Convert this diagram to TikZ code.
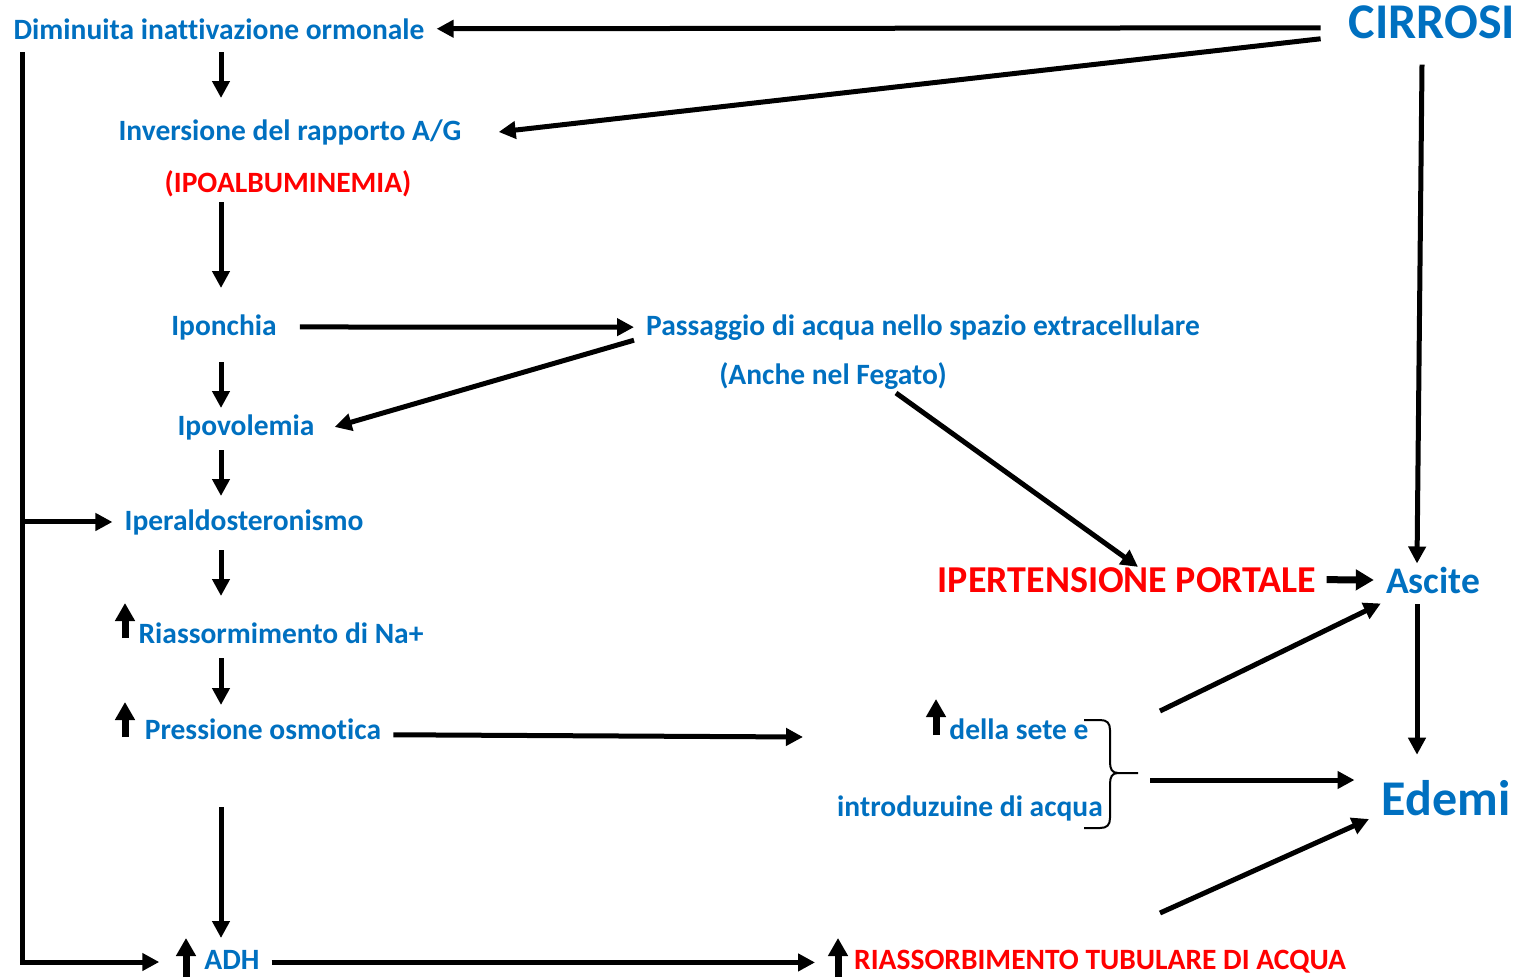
\documentclass[tikz,border=0pt]{standalone}
\usepackage{fontspec}
\setmainfont{Carlito}[Ligatures=CommonOff]
\usetikzlibrary{arrows.meta,calc}
\definecolor{ppblue}{HTML}{0070C0}
\definecolor{ppred}{HTML}{FF0000}

\begin{document}
\begin{tikzpicture}[x=1pt,y=-1pt,
  txt/.style={text=ppblue, font=\bfseries\fontsize{29.5}{34}\selectfont, inner xsep=12pt, inner ysep=0pt, anchor=base},
  redtxt/.style={txt, text=ppred},
  arr/.style={line width=5pt, -{Triangle[length=17pt,width=17pt]}},
  uparr/.style={line width=7pt, -{Triangle[length=18pt,width=19pt]}}]

\useasboundingbox (0,0) rectangle (1523,977);

% Left column
\node[txt] (dim) at (219,39) {Diminuita inattivazione ormonale};
\node[txt] (inv) at (290,140) {Inversione del rapporto A/G};
\node[redtxt] (ipo) at (288,192) {(IPOALBUMINEMIA)};
\node[txt] (iponchia) at (224,335) {Iponchia};
\node[txt] (ipovolemia) at (246,435) {Ipovolemia};
\node[txt] (iperald) at (244,530) {Iperaldosteronismo};
\node[txt] (riass) at (281,643) {Riassormimento di Na+};
\node[txt] (press) at (263,739) {Pressione osmotica};
\node[txt] (adh) at (232,969) {ADH};

% Middle and right
\node[txt, font=\bfseries\fontsize{50}{56}\selectfont, inner xsep=28pt] (cirrosi) at (1432,38) {CIRROSI};
\node[txt] (passaggio) at (923,335) {Passaggio di acqua nello spazio extracellulare};
\node[txt] (anche) at (833,384) {(Anche nel Fegato)};
\node[redtxt, font=\bfseries\fontsize{38}{44}\selectfont, inner xsep=10pt] (ipert) at (1127,592) {IPERTENSIONE PORTALE};
\node[txt, font=\bfseries\fontsize{37.5}{42}\selectfont] (ascite) at (1433,593) {Ascite};
\node[txt, font=\bfseries\fontsize{50}{56}\selectfont] (edemi) at (1446,815) {Edemi};
\node[txt] (sete) at (1019,739) {della sete e};
\node[txt] (introd) at (970,816) {introduzuine di acqua};
\node[redtxt] (rtub) at (1100,969) {RIASSORBIMENTO TUBULARE DI ACQUA};

% Helper coordinates
\coordinate (col) at (221,0);
\coordinate (rcol) at (1417,0);
\coordinate (ltop) at (22,52);
\coordinate (lbot) at (22,962);
\coordinate (psete) at (803,737);
\coordinate (btip) at (1150,780);
\coordinate (d1) at (1160,711);
\coordinate (d2) at (1160,913);

% Up arrows
\draw[uparr] (125,638) -- (125,603);
\draw[uparr] (125,737) -- (125,702);
\draw[uparr] (186,977) -- (186,938);
\draw[uparr] (838,977) -- (838,938);
\draw[uparr] (936,735) -- (936,699);

% Left column arrows
\draw[arr] ($(dim.base -| col)+(0,13)$) -- ($(inv.base -| col)+(0,-42)$);
\draw[arr] ($(ipo.base -| col)+(0,10)$) -- ($(iponchia.base -| col)+(0,-47)$);
\draw[arr] ($(iponchia.base -| col)+(0,27)$) -- ($(ipovolemia.base -| col)+(0,-27)$);
\draw[arr] ($(ipovolemia.base -| col)+(0,15)$) -- ($(iperald.base -| col)+(0,-34)$);
\draw[arr] ($(iperald.base -| col)+(0,20)$) -- ($(riass.base -| col)+(0,-47)$);
\draw[arr] ($(riass.base -| col)+(0,15)$) -- ($(press.base -| col)+(0,-34)$);
\draw[arr] ($(press.base -| col)+(0,68)$) -- ($(adh.base -| col)+(0,-31)$);

% Outer loop on the left
\draw[arr] (ltop) -- (lbot) -- ($(adh.west |- lbot)+(-33,0)$);
\draw[arr] (ltop |- iperald.west) -- (iperald.west);

% From CIRROSI
\draw[arr] ([yshift=-6pt]cirrosi.west) -- (dim.east);
\draw[arr] ([yshift=-17pt]cirrosi.west) -- ([xshift=25pt]inv.east);
\draw[arr] ($(cirrosi.south)+(-10,26)$) -- ($(ascite.north -| rcol)+(0,-3)$);

% Middle arrows
\draw[arr] ([xshift=11pt]iponchia.east) -- (passaggio.west);
\draw[arr] (passaggio.south west) -- ([xshift=8pt]ipovolemia.east);
\draw[arr] ($(anche.base)+(63,9)$) -- ($(ipert.north)+(11,0)$);
\draw[line width=7pt, -{Triangle[length=18pt,width=20pt]}] (ipert.east) -- (ascite.west);
\draw[arr] ($(ascite.south -| rcol)+(0,11)$) -- ($(edemi.north -| rcol)+(0,-25)$);
\draw[arr] ([yshift=-6pt]press.east) -- (psete);
\draw[arr] ([yshift=-3pt]adh.east) -- ($(rtub.west |- adh.east)+(-27,3)$);

% Brace
\draw[line width=2pt] (1084,720) -- (1100,720) .. controls (1107,720) and (1110,723) .. (1110,730)
  -- (1110,762) .. controls (1110,769) and (1112,773) .. (1118,773) -- (1138,773);
\draw[line width=2pt] (1118,773) .. controls (1112,773) and (1110,777) .. (1110,784)
  -- (1110,818) .. controls (1110,825) and (1107,828) .. (1100,828) -- (1084,828);

% Towards Ascite and Edemi
\draw[arr] (btip) -- ($(btip -| edemi.west)+(-15,0)$);
\draw[arr] (d1) -- ($(ascite.south west)+(7,10)$);
\draw[arr] (d2) -- ($(edemi.base)+(-77,4)$);

\end{tikzpicture}
\end{document}
